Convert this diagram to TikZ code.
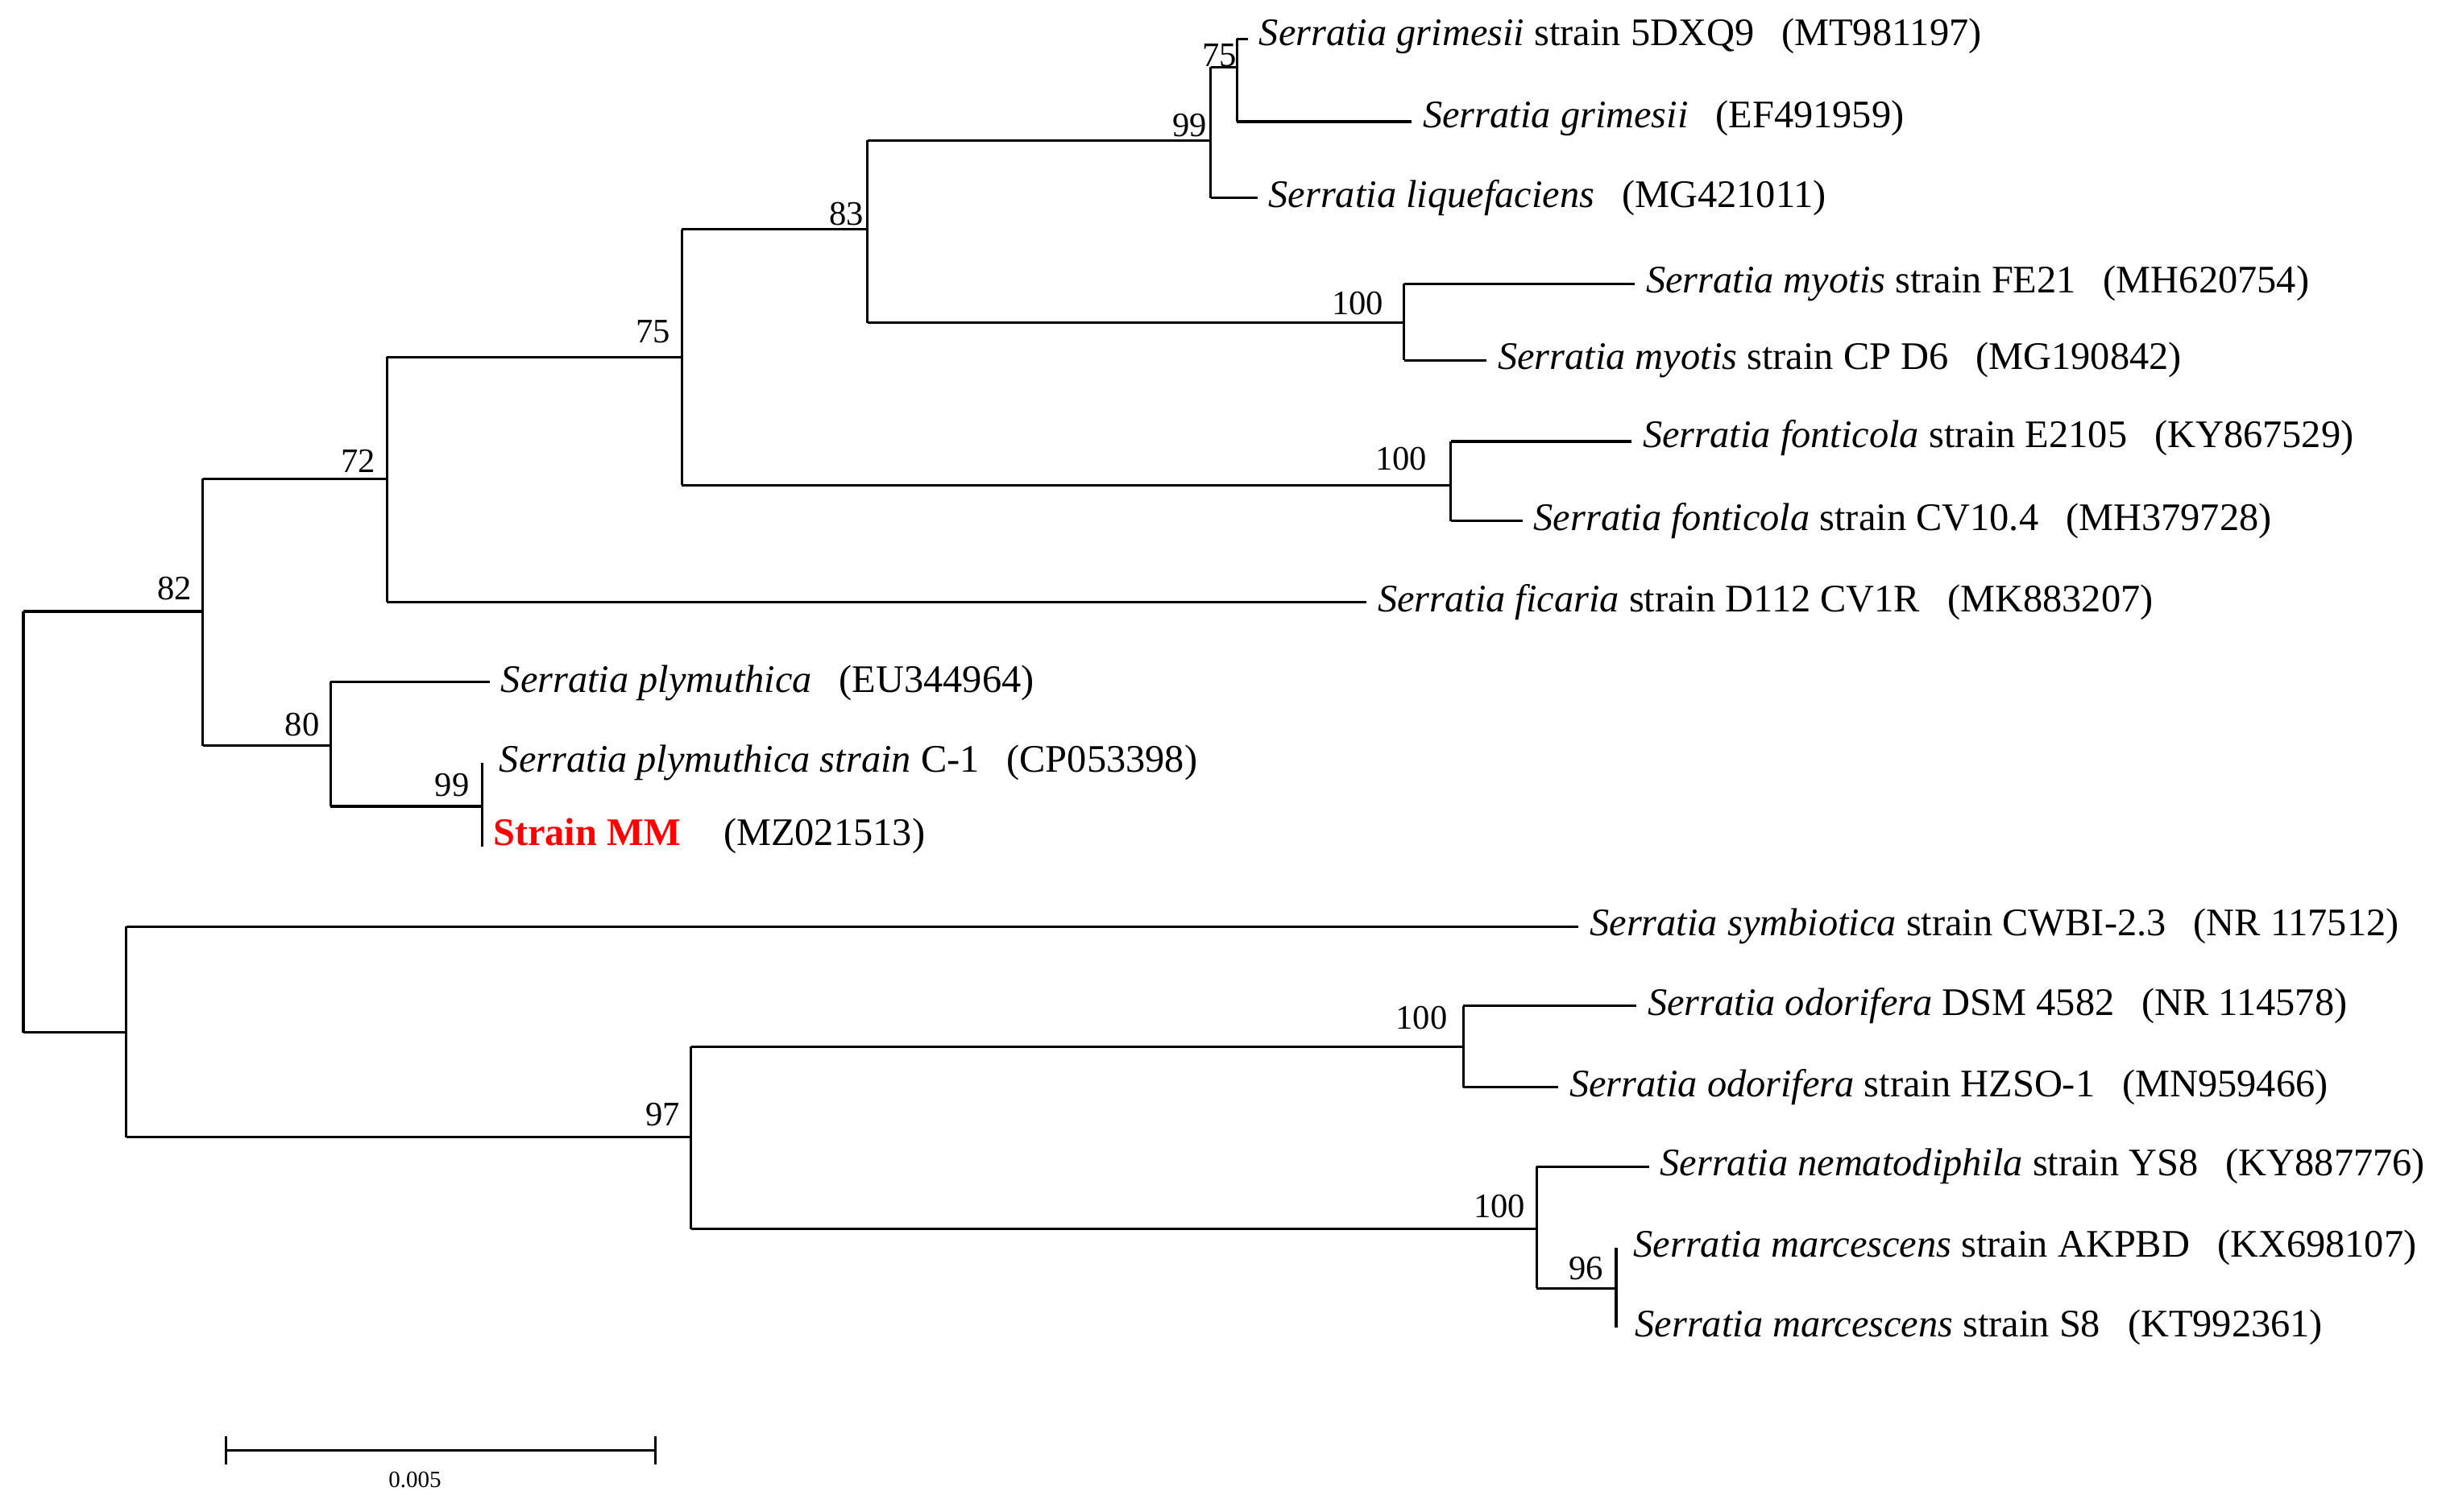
\documentclass[tikz,border=0pt]{standalone}
\usepackage{fontspec}
\setmainfont{Liberation Serif}
\tikzset{x=1pt,y=-1pt,
 br/.style={line width=1.6pt},
 leaf/.style={anchor=west,inner xsep=7pt,inner ysep=0pt,font=\fontsize{25}{28}\selectfont},
 bs/.style={anchor=south east,inner sep=2pt,font=\fontsize{22}{24}\selectfont}}
\newcommand{\acc}[1]{\hspace{0.7em}(#1)}
\begin{document}
\begin{tikzpicture}
\useasboundingbox (0,0) rectangle (1568,969);
% internal nodes
\coordinate (r) at (15,392); \coordinate (r2) at (15,662);
\coordinate (n82a) at (130,307); \coordinate (n82b) at (130,478);
\coordinate (n72a) at (248,229); \coordinate (n72b) at (248,386);
\coordinate (n75a) at (437,147); \coordinate (n75b) at (437,311);
\coordinate (n83a) at (556,90); \coordinate (n83b) at (556,207);
\coordinate (n99a) at (776,43); \coordinate (n99b) at (776,127);
\coordinate (n75ca) at (793,25); \coordinate (n75cb) at (793,78);
\coordinate (nmya) at (900,182); \coordinate (nmyb) at (900,231);
\coordinate (nfoa) at (930,283); \coordinate (nfob) at (930,334);
\coordinate (n80a) at (212,437); \coordinate (n80b) at (212,517);
\coordinate (n99pa) at (309,489); \coordinate (n99pb) at (309,543);
\coordinate (nla) at (81,594); \coordinate (nlb) at (81,729);
\coordinate (n97a) at (443,671); \coordinate (n97b) at (443,788);
\coordinate (noda) at (938,645); \coordinate (nodb) at (938,697);
\coordinate (nma) at (985,748); \coordinate (nmb) at (985,826);
\coordinate (n96a) at (1036,800); \coordinate (n96b) at (1036,851);
% leaves
\node[leaf] (l1) at (800,23) {\textit{Serratia grimesii} strain 5DXQ9\acc{MT981197}};
\node[leaf] (l2) at (905,76) {\textit{Serratia grimesii}\acc{EF491959}};
\node[leaf] (l3) at (806,127) {\textit{Serratia liquefaciens}\acc{MG421011}};
\node[leaf] (l4) at (1048,182) {\textit{Serratia myotis} strain FE21\acc{MH620754}};
\node[leaf] (l5) at (953,231) {\textit{Serratia myotis} strain CP D6\acc{MG190842}};
\node[leaf] (l6) at (1046,281) {\textit{Serratia fonticola} strain E2105\acc{KY867529}};
\node[leaf] (l7) at (976,334) {\textit{Serratia fonticola} strain CV10.4\acc{MH379728}};
\node[leaf] (l8) at (876,386) {\textit{Serratia ficaria} strain D112 CV1R\acc{MK883207}};
\node[leaf] (l9) at (314,438) {\textit{Serratia plymuthica}\acc{EU344964}};
\node[leaf] (l10) at (313,489) {\textit{Serratia plymuthica strain} C-1\acc{CP053398}};
\node[leaf] (l11) at (309,536) {\textcolor{red}{\textbf{Strain MM}}\hspace{0.4em}\acc{MZ021513}};
\node[leaf] (l12) at (1012,594) {\textit{Serratia symbiotica} strain CWBI-2.3\acc{NR 117512}};
\node[leaf] (l13) at (1049,645) {\textit{Serratia odorifera} DSM 4582\acc{NR 114578}};
\node[leaf] (l14) at (999,697) {\textit{Serratia odorifera} strain HZSO-1\acc{MN959466}};
\node[leaf] (l15) at (1057,748) {\textit{Serratia nematodiphila} strain YS8\acc{KY887776}};
\node[leaf] (l16) at (1040,800) {\textit{Serratia marcescens} strain AKPBD\acc{KX698107}};
\node[leaf] (l17) at (1041,851) {\textit{Serratia marcescens} strain S8\acc{KT992361}};
% branches
\draw[br] (r) -- (r2);
\draw[br] (r) -- (n82a |- r) (n82a) -- (n82b);
\draw[br] (n82a) -- (n72a |- n82a) (n72a) -- (n72b);
\draw[br] (n72a) -- (n75a |- n72a) (n75a) -- (n75b);
\draw[br] (n75a) -- (n83a |- n75a) (n83a) -- (n83b);
\draw[br] (n83a) -- (n99a |- n83a) (n99a) -- (n99b);
\draw[br] (n99a) -- (n75ca |- n99a) (n75ca) -- (n75cb);
\draw[br] (n75ca) -- (n75ca -| l1.west) (n75cb) -- (n75cb -| l2.west) (n99b) -- (n99b -| l3.west);
\draw[br] (n83b) -- (nmya |- n83b) (nmya) -- (nmyb);
\draw[br] (nmya) -- (nmya -| l4.west) (nmyb) -- (nmyb -| l5.west);
\draw[br] (n75b) -- (nfoa |- n75b) (nfoa) -- (nfob);
\draw[br] (nfoa) -- (nfoa -| l6.west) (nfob) -- (nfob -| l7.west);
\draw[br] (n72b) -- (n72b -| l8.west);
\draw[br] (n82b) -- (n80a |- n82b) (n80a) -- (n80b);
\draw[br] (n80a) -- (n80a -| l9.west);
\draw[br] (n80b) -- (n99pa |- n80b) (n99pa) -- (n99pb);
\draw[br] (r2) -- (nla |- r2) (nla) -- (nlb);
\draw[br] (nla) -- (nla -| l12.west);
\draw[br] (nlb) -- (n97a |- nlb) (n97a) -- (n97b);
\draw[br] (n97a) -- (noda |- n97a) (noda) -- (nodb);
\draw[br] (noda) -- (noda -| l13.west) (nodb) -- (nodb -| l14.west);
\draw[br] (n97b) -- (nma |- n97b) (nma) -- (nmb);
\draw[br] (nma) -- (nma -| l15.west);
\draw[br] (nmb) -- (n96a |- nmb) (n96a) -- (n96b);
% bootstrap labels
\node[bs] at (795,45) {75};
\node[bs] at (776,90) {99};
\node[bs] at (556,147) {83};
\node[bs] at (889,204) {100};
\node[bs] at (432,222) {75};
\node[bs] at (917,304) {100};
\node[bs] at (243,305) {72};
\node[bs] at (125,387) {82};
\node[bs] at (207,474) {80};
\node[bs] at (303,513) {99};
\node[bs] at (438,724) {97};
\node[bs] at (930,662) {100};
\node[bs] at (980,783) {100};
\node[bs] at (1030,823) {96};
% scale bar
\coordinate (s1) at (145,930); \coordinate (s2) at (420,930);
\draw[br] (s1) -- (s2) ([yshift=-9]s1) -- ([yshift=9]s1) ([yshift=-9]s2) -- ([yshift=9]s2);
\node[font=\fontsize{15}{17}\selectfont] (sl) at (266,949) {0.005};
\end{tikzpicture}
\end{document}
